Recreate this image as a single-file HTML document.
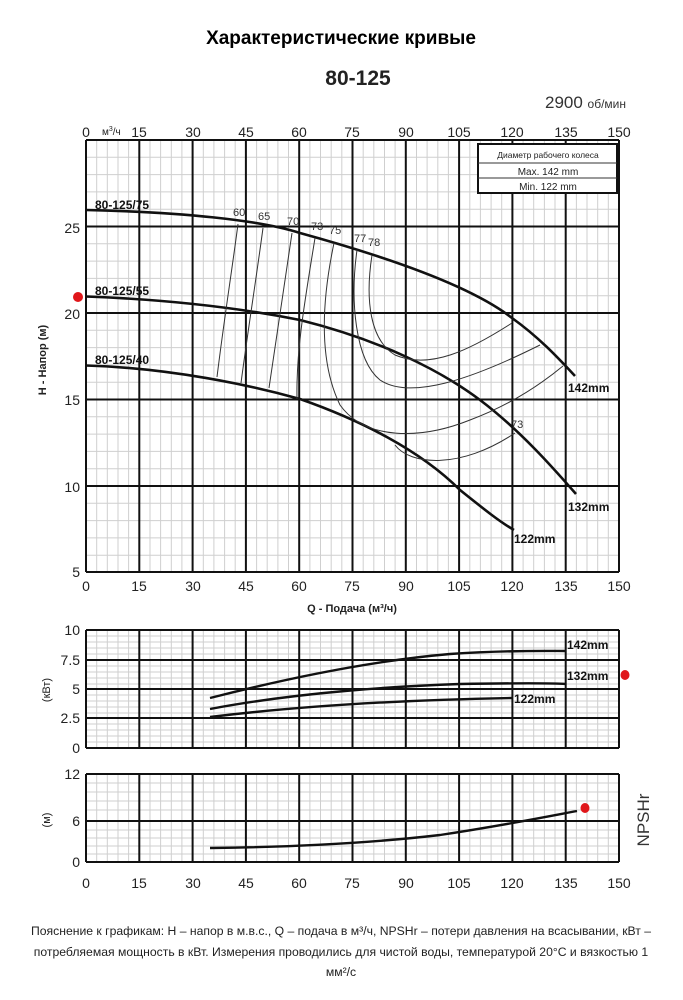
<!DOCTYPE html>
<html><head><meta charset="utf-8"><style>
body{margin:0;background:#fff}
svg{display:block}
text{font-family:"Liberation Sans","DejaVu Sans",sans-serif}
</style></head><body>
<svg width="683" height="1000" viewBox="0 0 683 1000" xmlns="http://www.w3.org/2000/svg">
<rect width="683" height="1000" fill="#fff"/>
<text x="341" y="44" text-anchor="middle" font-size="19" font-weight="bold">Характеристические кривые</text>
<text x="358" y="85" text-anchor="middle" font-size="21" font-weight="bold" fill="#222">80-125</text>
<text x="545" y="108" font-size="17" fill="#333">2900 <tspan font-size="12">об/мин</tspan></text>

<g stroke="#cfcfcf" stroke-width="1" fill="none">
<path d="M96.7 140V572M107.3 140V572M118 140V572M128.6 140V572M150 140V572M160.6 140V572M171.3 140V572M181.9 140V572M203.3 140V572M213.9 140V572M224.6 140V572M235.2 140V572M256.6 140V572M267.2 140V572M277.9 140V572M288.5 140V572M309.9 140V572M320.5 140V572M331.2 140V572M341.8 140V572M363.2 140V572M373.8 140V572M384.5 140V572M395.1 140V572M416.5 140V572M427.1 140V572M437.8 140V572M448.4 140V572M469.8 140V572M480.4 140V572M491.1 140V572M501.7 140V572M523.1 140V572M533.7 140V572M544.4 140V572M555 140V572M576.4 140V572M587 140V572M597.7 140V572M608.3 140V572"/>
<path d="M86 157.3H619M86 174.6H619M86 191.9H619M86 209.2H619M86 243.8H619M86 261.1H619M86 278.4H619M86 295.7H619M86 330.3H619M86 347.6H619M86 364.9H619M86 382.2H619M86 416.8H619M86 434.1H619M86 451.4H619M86 468.7H619M86 503.3H619M86 520.6H619M86 537.9H619M86 555.2H619"/>
<path d="M86 636H619M86 642H619M86 648H619M86 654H619M86 666H619M86 672H619M86 678H619M86 684H619M86 695H619M86 701H619M86 707H619M86 713H619M86 724H619M86 730H619M86 736H619M86 742H619"/>
<path d="M86 783H619M86 792H619M86 801H619M86 810H619M86 830H619M86 838H619M86 846H619M86 854H619"/>
<path d="M96.7 630V748M107.3 630V748M118 630V748M128.6 630V748M150 630V748M160.6 630V748M171.3 630V748M181.9 630V748M203.3 630V748M213.9 630V748M224.6 630V748M235.2 630V748M256.6 630V748M267.2 630V748M277.9 630V748M288.5 630V748M309.9 630V748M320.5 630V748M331.2 630V748M341.8 630V748M363.2 630V748M373.8 630V748M384.5 630V748M395.1 630V748M416.5 630V748M427.1 630V748M437.8 630V748M448.4 630V748M469.8 630V748M480.4 630V748M491.1 630V748M501.7 630V748M523.1 630V748M533.7 630V748M544.4 630V748M555 630V748M576.4 630V748M587 630V748M597.7 630V748M608.3 630V748"/>
<path d="M96.7 774V862M107.3 774V862M118 774V862M128.6 774V862M150 774V862M160.6 774V862M171.3 774V862M181.9 774V862M203.3 774V862M213.9 774V862M224.6 774V862M235.2 774V862M256.6 774V862M267.2 774V862M277.9 774V862M288.5 774V862M309.9 774V862M320.5 774V862M331.2 774V862M341.8 774V862M363.2 774V862M373.8 774V862M384.5 774V862M395.1 774V862M416.5 774V862M427.1 774V862M437.8 774V862M448.4 774V862M469.8 774V862M480.4 774V862M491.1 774V862M501.7 774V862M523.1 774V862M533.7 774V862M544.4 774V862M555 774V862M576.4 774V862M587 774V862M597.7 774V862M608.3 774V862"/>
</g>
<g stroke="#111" stroke-width="2" fill="none">
<path d="M86 140V572M139.3 140V572M192.6 140V572M245.9 140V572M299.2 140V572M352.5 140V572M405.8 140V572M459.1 140V572M512.4 140V572M565.7 140V572M619 140V572"/>
<path d="M86 140H619M86 226.5H619M86 313H619M86 399.5H619M86 486H619M86 572H619"/>
<path d="M86 630V748M139.3 630V748M192.6 630V748M245.9 630V748M299.2 630V748M352.5 630V748M405.8 630V748M459.1 630V748M512.4 630V748M565.7 630V748M619 630V748"/>
<path d="M86 630H619M86 660H619M86 689H619M86 718H619M86 748H619"/>
<path d="M86 774V862M139.3 774V862M192.6 774V862M245.9 774V862M299.2 774V862M352.5 774V862M405.8 774V862M459.1 774V862M512.4 774V862M565.7 774V862M619 774V862"/>
<path d="M86 774H619M86 821H619M86 862H619"/>
</g>
<rect x="478" y="144" width="139" height="49" fill="#fff" stroke="#111" stroke-width="2"/>
<path d="M478 163H617M478 178H617" stroke="#333" stroke-width="1"/>
<text x="548" y="158" font-size="8.5" text-anchor="middle" fill="#222">Диаметр рабочего колеса</text>
<text x="548" y="175" font-size="10" text-anchor="middle" fill="#222">Max.  142  mm</text>
<text x="548" y="190" font-size="10" text-anchor="middle" fill="#222">Min.   122  mm</text>

<g font-size="14" fill="#222" text-anchor="middle">
<text x="86" y="137">0</text><text x="139" y="137">15</text><text x="193" y="137">30</text><text x="246" y="137">45</text><text x="299" y="137">60</text><text x="352" y="137">75</text><text x="406" y="137">90</text><text x="459" y="137">105</text><text x="512" y="137">120</text><text x="566" y="137">135</text><text x="619" y="137">150</text>
<text x="86" y="591">0</text><text x="139" y="591">15</text><text x="193" y="591">30</text><text x="246" y="591">45</text><text x="299" y="591">60</text><text x="352" y="591">75</text><text x="406" y="591">90</text><text x="459" y="591">105</text><text x="512" y="591">120</text><text x="566" y="591">135</text><text x="619" y="591">150</text>
<text x="86" y="888">0</text><text x="139" y="888">15</text><text x="193" y="888">30</text><text x="246" y="888">45</text><text x="299" y="888">60</text><text x="352" y="888">75</text><text x="406" y="888">90</text><text x="459" y="888">105</text><text x="512" y="888">120</text><text x="566" y="888">135</text><text x="619" y="888">150</text>
</g>
<text x="102" y="135" font-size="10" fill="#222">м<tspan dy="-4" font-size="7">3</tspan><tspan dy="4">/ч</tspan></text>
<g font-size="14" fill="#222" text-anchor="end">
<text x="80" y="233">25</text><text x="80" y="319">20</text><text x="80" y="405">15</text><text x="80" y="492">10</text><text x="80" y="577">5</text>
<text x="80" y="635">10</text><text x="80" y="665">7.5</text><text x="80" y="694">5</text><text x="80" y="723">2.5</text><text x="80" y="753">0</text>
<text x="80" y="779">12</text><text x="80" y="826">6</text><text x="80" y="867">0</text>
</g>
<text transform="translate(46,360) rotate(-90)" font-size="11" font-weight="bold" text-anchor="middle" fill="#222">H - Напор (м)</text>
<text x="352" y="612" font-size="11" font-weight="bold" text-anchor="middle" fill="#222">Q - Подача (м³/ч)</text>
<text transform="translate(50,690) rotate(-90)" font-size="11" text-anchor="middle" fill="#222">(кВт)</text>
<text transform="translate(50,820) rotate(-90)" font-size="11" text-anchor="middle" fill="#222">(м)</text>
<text transform="translate(649,820) rotate(-90)" font-size="17" text-anchor="middle" fill="#333">NPSHr</text>

<g stroke="#111" stroke-width="2.6" fill="none">
<path d="M86 210 C180 212 260 220 300 233 C380 255 470 285 512 318 C540 338 560 360 575 376"/>
<path d="M86 296.5 C180 300 250 310 300 320 C380 340 440 370 480 400 C520 430 555 470 576 494"/>
<path d="M86 365.5 C170 368 250 385 300 399 C360 420 420 450 460 490 C485 510 500 522 514 530"/>
</g>
<g font-size="12" font-weight="bold" fill="#111">
<text x="95" y="209">80-125/75</text>
<text x="95" y="295">80-125/55</text>
<text x="95" y="364">80-125/40</text>
<text x="568" y="392">142mm</text>
<text x="568" y="511">132mm</text>
<text x="514" y="543">122mm</text>
<text x="567" y="649">142mm</text>
<text x="567" y="680">132mm</text>
<text x="514" y="703">122mm</text>
</g>
<g stroke="#333" stroke-width="1" fill="none">
<path d="M238 224 C232 270 224 320 217 377"/>
<path d="M263 228 C256 280 248 330 241 383"/>
<path d="M292 233 C284 290 276 340 269 388"/>
<path d="M315 238 C305 300 296 350 297 399"/>
<path d="M334 243 C322 300 318 360 340 405 C365 440 420 440 470 420 C510 405 540 385 563 366"/>
<path d="M357 250 C350 300 355 360 380 380 C410 400 470 380 540 345"/>
<path d="M372 255 C365 300 370 340 395 355 C430 370 470 350 512 323"/>
<path d="M395 445 C410 465 460 470 515 433"/>
</g>
<g font-size="11" fill="#333">
<text x="233" y="216">60</text><text x="258" y="220">65</text><text x="287" y="225">70</text><text x="311" y="230">73</text><text x="329" y="234">75</text><text x="354" y="242">77</text><text x="368" y="246">78</text><text x="511" y="428">73</text>
</g>
<g stroke="#111" stroke-width="2.4" fill="none">
<path d="M210 698 C300 675 380 660 450 654 C510 650 550 651 566 651"/>
<path d="M210 709 C300 692 400 686 460 684 C520 683 550 683 566 684"/>
<path d="M210 717 C300 706 400 700 512 698"/>
<path d="M210 848 C300 847 380 842 440 835 C500 826 540 818 577 811"/>
</g>
<circle cx="78" cy="297" r="5" fill="#e0161a"/>
<ellipse cx="625" cy="675" rx="4.5" ry="5" fill="#e0161a"/>
<ellipse cx="585" cy="808" rx="4.5" ry="5" fill="#e0161a"/>

<g font-size="12.2" fill="#222" text-anchor="middle">
<text x="341" y="935">Пояснение к графикам: Н – напор в м.в.с., Q – подача в м³/ч, NPSHr – потери давления на всасывании, кВт –</text>
<text x="341" y="956">потребляемая мощность в кВт. Измерения проводились для чистой воды, температурой 20°С и вязкостью 1</text>
<text x="341" y="976">мм²/с</text>
</g>
</svg>
</body></html>
